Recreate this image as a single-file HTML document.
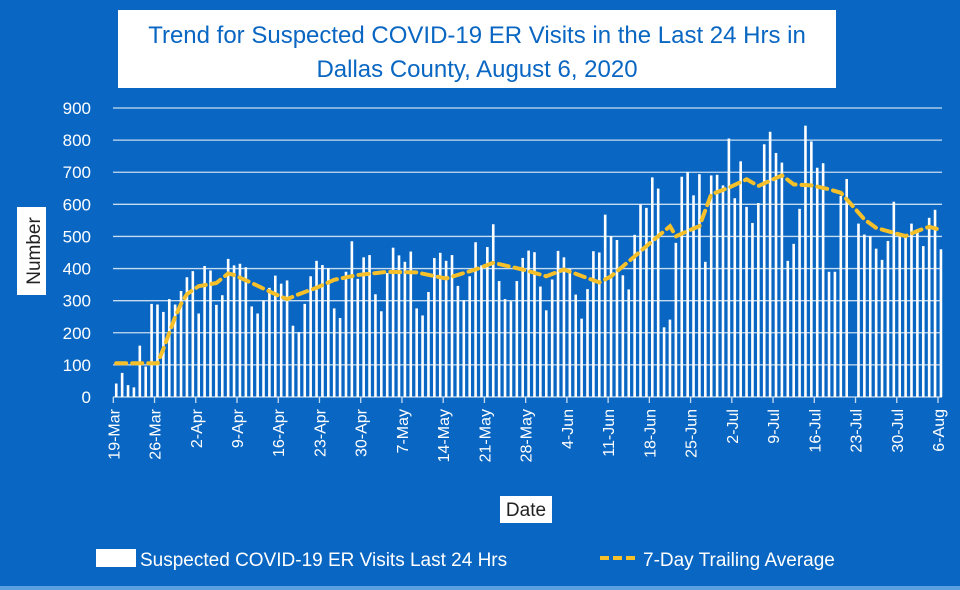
<!DOCTYPE html>
<html><head><meta charset="utf-8"><style>
body{margin:0;background:#0966c2;}
svg{display:block;font-family:"Liberation Sans",sans-serif;}
</style></head><body>
<svg id="chart" width="960" height="590" xmlns="http://www.w3.org/2000/svg">
<rect x="0" y="0" width="960" height="590" fill="#0966c2"/>
<rect x="0" y="586" width="960" height="4" fill="#5aa0e0"/>
<g>
<rect x="118" y="10" width="718" height="78" fill="#fff"/>
<text x="477" y="43" text-anchor="middle" font-size="24" fill="#0966c2">Trend for Suspected COVID-19 ER Visits in the Last 24 Hrs in</text>
<text x="477" y="77" text-anchor="middle" font-size="24" fill="#0966c2">Dallas County, August 6, 2020</text>
</g>
<g id="grid"></g>
<g id="yticks"></g>
<g id="bars"></g>
<path id="avg" fill="none" stroke="#f5c02a" stroke-width="4" stroke-dasharray="10,6" stroke-linecap="round"/>
<g id="xticks"></g>
<g>
<rect x="17" y="207" width="29" height="88" fill="#fff"/>
<text transform="translate(40,251) rotate(-90)" text-anchor="middle" font-size="19" fill="#222">Number</text>
</g>
<g>
<rect x="500" y="496" width="52" height="27" fill="#fff"/>
<text x="526" y="516" text-anchor="middle" font-size="19" fill="#222">Date</text>
</g>
<g>
<g>
<rect x="96" y="549" width="40" height="18" fill="#fff"/>
<text x="140" y="566" font-size="19" fill="#fff">Suspected COVID-19 ER Visits Last 24 Hrs</text>
</g>
<g>
<line x1="600" y1="558" x2="638" y2="558" stroke="#f5c02a" stroke-width="4" stroke-dasharray="9,4"/>
<text x="643" y="566" font-size="19" fill="#fff">7-Day Trailing Average</text>
</g>
</g>
</svg>
<script>
const visits = [42,75,37,30,160,95,290,288,265,305,288,330,373,392,260,408,394,287,317,430,410,415,404,282,260,300,340,378,353,363,222,202,290,376,424,411,401,276,246,390,485,368,435,442,320,267,386,
465,441,421,453,276,254,327,433,449,424,442,346,301,376,482,410,467,538,361,305,298,361,433,456,451,344,270,366,455,435,399,319,244,336,454,450,568,501,489,379,335,505,600,589,684,649,217,241,
480,686,701,628,694,421,690,692,659,805,619,734,592,542,604,787,826,760,730,424,477,586,845,796,714,728,390,390,626,679,0,540,506,501,462,427,486,608,509,499,540,520,470,558,583,460];
const avgDays = [0,6,7,8,9,10,11,12,14,17,19,20,23,27,29,31,34,37,41,46,51,56,61,64,69,73,76,82,84,88,90,94,95,97,99,101,104,107,109,113,115,118,121,123,125,127,129,132,134,136,138,140];
const avgValues = [105,105,105,150,200,250,290,320,345,355,385,380,355,320,305,320,340,365,380,390,388,369,397,418,397,376,397,357,376,438,470,532,500,517,532,631,652,678,657,690,662,659,647,636,595,553,527,511,501,517,530,520];
const yTicks = [0,100,200,300,400,500,600,700,800,900];
const xTickLabels = ["19-Mar","26-Mar","2-Apr","9-Apr","16-Apr","23-Apr","30-Apr","7-May","14-May","21-May","28-May","4-Jun","11-Jun","18-Jun","25-Jun","2-Jul","9-Jul","16-Jul","23-Jul","30-Jul","6-Aug"];

const NS="http://www.w3.org/2000/svg";
const x0=113.3, dx=(938-113.3)/140, yBase=397, yTop=108;
const X=d=>x0+dx*(d+0.5);
const Y=v=>yBase-(v/900)*(yBase-yTop);
const grid=document.getElementById('grid'), yt=document.getElementById('yticks');
yTicks.forEach(v=>{
  const l=document.createElementNS(NS,'line');
  
  
  l.setAttribute('x1',113);l.setAttribute('x2',942);l.setAttribute('y1',Y(v));l.setAttribute('y2',Y(v));
  l.setAttribute('stroke','#c8dcf0');l.setAttribute('stroke-width',1.3);
  grid.appendChild(l);
  const t=document.createElementNS(NS,'text');
  
  
  t.setAttribute('x',91);t.setAttribute('y',Y(v)+6);t.setAttribute('text-anchor','end');
  t.setAttribute('font-size',17);t.setAttribute('fill','#fff');t.textContent=v;
  yt.appendChild(t);
});
const bars=document.getElementById('bars');
visits.forEach((v,i)=>{
  if(v<=0)return;
  const r=document.createElementNS(NS,'rect');
  
  
  r.setAttribute('x',X(i)-1.3);r.setAttribute('width',2.6);
  r.setAttribute('y',Y(v));r.setAttribute('height',yBase-Y(v));r.setAttribute('fill','#fff');
  bars.appendChild(r);
});
document.getElementById('avg').setAttribute('d',avgDays.map((d,i)=>(i?'L':'M')+X(d).toFixed(1)+','+Y(avgValues[i]).toFixed(1)).join(''));
const xt=document.getElementById('xticks');
xTickLabels.forEach((s,i)=>{
  const x=x0+dx*7*i;
  const l=document.createElementNS(NS,'line');
  
  
  l.setAttribute('x1',x);l.setAttribute('x2',x);l.setAttribute('y1',397);l.setAttribute('y2',403);
  l.setAttribute('stroke','#c8dcf0');l.setAttribute('stroke-width',1.3);
  xt.appendChild(l);
  const t=document.createElementNS(NS,'text');
  
  
  t.setAttribute('transform','translate('+(x+6)+',409) rotate(-90)');
  t.setAttribute('text-anchor','end');t.setAttribute('font-size',16);t.setAttribute('fill','#fff');
  t.textContent=s;xt.appendChild(t);
});
</script>
</body></html>
